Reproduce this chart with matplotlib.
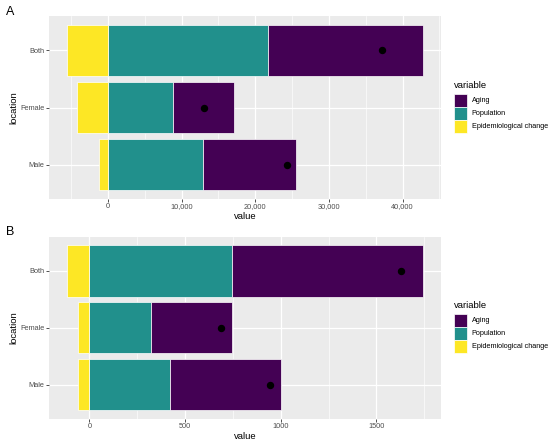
import matplotlib
matplotlib.use("Agg")
import matplotlib.pyplot as plt
from matplotlib.patches import Rectangle
from matplotlib.ticker import FuncFormatter, MultipleLocator
import numpy as np

plt.rcParams['font.family'] = ['Liberation Sans', 'DejaVu Sans']

locations = ["Male", "Female", "Both"]
variables = ["Aging", "Population", "Epidemiological change"]
colors = {"Aging": "#440154", "Population": "#21908C", "Epidemiological change": "#FDE725"}

# Panel A (order: Male, Female, Both)
a_aging = [12620, 8280, 21100]
a_population = [12850, 8860, 21700]
a_epi = [-1180, -4170, -5600]

# Panel B
b_aging = [581, 423, 1000]
b_population = [420, 324, 744]
b_epi = [-57, -61, -118]

fig = plt.figure(figsize=(5.5, 4.45), dpi=100)
W, H = 550, 445

def ax_rect(l, r, t, b):
    return [l / W, 1 - b / H, (r - l) / W, (b - t) / H]

def draw_panel(ax, aging, pop, epi, major, minor, fmt):
    ax.set_facecolor("#EBEBEB")
    y = np.arange(1, len(locations) + 1)
    aging = np.array(aging); pop = np.array(pop); epi = np.array(epi)
    kw = dict(height=0.9, edgecolor="white", linewidth=0.5, zorder=3)
    ax.barh(y, pop, left=0, color=colors["Population"], **kw)
    ax.barh(y, aging, left=pop, color=colors["Aging"], **kw)
    ax.barh(y, epi, left=0, color=colors["Epidemiological change"], **kw)
    net = aging + pop + epi
    ax.plot(net, y, "o", color="black", markersize=4.3, zorder=4)
    lo = min(epi.min(), 0); hi = (aging + pop).max()
    pad = (hi - lo) * 0.05
    ax.set_xlim(lo - pad, hi + pad)
    ax.set_ylim(0.4, len(locations) + 0.6)
    ax.set_yticks(y)
    ax.set_yticklabels(locations)
    ax.xaxis.set_major_locator(MultipleLocator(major))
    ax.xaxis.set_minor_locator(MultipleLocator(minor))
    ax.xaxis.set_major_formatter(FuncFormatter(fmt))
    ax.grid(which="major", color="white", linewidth=0.9, zorder=0)
    ax.grid(which="minor", axis="x", color="white", linewidth=0.45, zorder=0)
    ax.set_axisbelow(True)
    for s in ax.spines.values():
        s.set_visible(False)
    ax.tick_params(which="major", length=2, width=0.6, color="#333333",
                   labelsize=5.3, labelcolor="#4D4D4D", pad=1.2)
    ax.tick_params(which="minor", length=0)
    ax.set_xlabel("value", fontsize=6.8, color="black", labelpad=0.8)
    ax.set_ylabel("location", fontsize=6.8, color="black", labelpad=1.5)

axA = fig.add_axes(ax_rect(49, 441, 16, 199))
draw_panel(axA, a_aging, a_population, a_epi, 10000, 5000,
           lambda v, p: f"{int(round(v)):,}")
axB = fig.add_axes(ax_rect(49, 441, 236.7, 419))
draw_panel(axB, b_aging, b_population, b_epi, 500, 250,
           lambda v, p: f"{int(round(v))}")

fig.text(6 / W, 1 - 12 / H, "A", fontsize=9, va="center", ha="left")
fig.text(6 / W, 1 - 232 / H, "B", fontsize=9, va="center", ha="left")

def draw_legend(top):
    fig.text(454 / W, 1 - (top - 9) / H, "variable", fontsize=6.8, va="center", ha="left")
    for i, v in enumerate(variables):
        t = top + i * 13.2
        fig.add_artist(Rectangle((454 / W, 1 - (t + 12.5) / H), 13 / W, 12.5 / H,
                                 transform=fig.transFigure, facecolor=colors[v],
                                 edgecolor="white", linewidth=0.5))
        fig.text(471.5 / W, 1 - (t + 6.3) / H, v, fontsize=5.2, va="center", ha="left")

draw_legend(94)
draw_legend(314)

fig.savefig("out.png", dpi=100, facecolor="white")
